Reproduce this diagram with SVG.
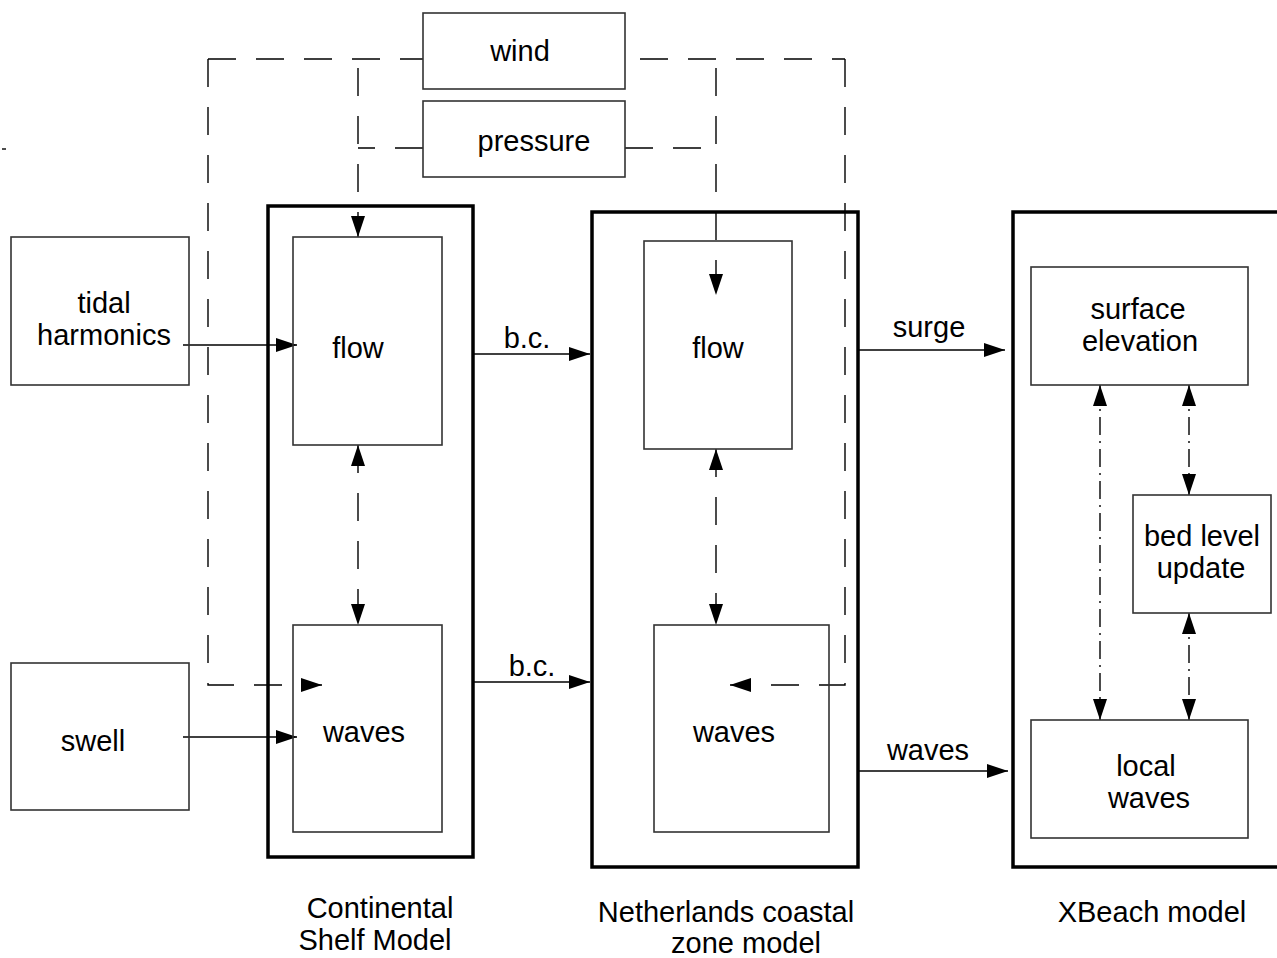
<svg xmlns="http://www.w3.org/2000/svg" width="1277" height="958" viewBox="0 0 1277 958">
<style>
text{font-family:"Liberation Sans",Arial,sans-serif;font-size:29px;fill:#000;text-anchor:middle}
.box{fill:#fff;stroke:#333;stroke-width:1.6}
.nofill{fill:none}
.outer{fill:none;stroke:#000;stroke-width:3.5}
.ln{fill:none;stroke:#000;stroke-width:1.4}
.dash{fill:none;stroke:#000;stroke-width:1.4;stroke-dasharray:28 20}
.dd{fill:none;stroke:#000;stroke-width:1.4;stroke-dasharray:18 6 2 6}
</style>
<defs>
<marker id="ah" markerUnits="userSpaceOnUse" markerWidth="22" markerHeight="14" refX="21" refY="7" orient="auto-start-reverse">
<path d="M0,0 L21,7 L0,14 Z" fill="#000"/>
</marker>
</defs>
<rect width="1277" height="958" fill="#fff"/>
<line x1="2" y1="149" x2="6" y2="149" stroke="#000" stroke-width="1.4"/>

<g id="connectors">
<path class="dash" d="M208,59 H845"/>
<path class="dash" d="M208,59 V685 H322" marker-end="url(#ah)"/>
<path class="dash" d="M845,59 V685 H730" marker-end="url(#ah)"/>
<path class="dash" d="M358,68 V237" marker-end="url(#ah)"/>
<path class="dash" d="M423,148 H358"/>
<path class="dash" d="M716,68 V295" marker-end="url(#ah)"/>
<path class="dash" d="M625,148 H716"/>
<path class="dash" d="M358,445 V625" marker-start="url(#ah)" marker-end="url(#ah)"/>
<path class="dash" d="M716,449 V625" marker-start="url(#ah)" marker-end="url(#ah)"/>
<path class="ln" d="M183,345 H297" marker-end="url(#ah)"/>
<path class="ln" d="M183,737 H297" marker-end="url(#ah)"/>
<path class="ln" d="M473,354 H590" marker-end="url(#ah)"/>
<text x="527" y="348">b.c.</text>
<path class="ln" d="M473,682 H590" marker-end="url(#ah)"/>
<text x="532" y="676">b.c.</text>
<path class="ln" d="M858,350 H1005" marker-end="url(#ah)"/>
<text x="929" y="337">surge</text>
<path class="ln" d="M858,771 H1008" marker-end="url(#ah)"/>
<text x="928" y="760">waves</text>
<path class="dd" d="M1100,385 V720" marker-start="url(#ah)" marker-end="url(#ah)"/>
<path class="dd" d="M1189,385 V495" marker-start="url(#ah)" marker-end="url(#ah)"/>
<path class="dd" d="M1189,613 V720" marker-start="url(#ah)" marker-end="url(#ah)"/>
</g>

<g id="wind"><rect class="box" x="423" y="13" width="202" height="76"/><text x="520" y="61">wind</text></g>
<g id="pressure"><rect class="box" x="423" y="101" width="202" height="76"/><text x="534" y="151">pressure</text></g>

<g id="tidal"><rect class="box nofill" x="11" y="237" width="178" height="148"/><text x="104" y="313">tidal</text><text x="104" y="345">harmonics</text></g>
<g id="swell"><rect class="box nofill" x="11" y="663" width="178" height="147"/><text x="93" y="751">swell</text></g>

<g id="continental-shelf">
<rect class="outer" x="268" y="206" width="205" height="651"/>
<text x="380" y="918">Continental</text><text x="375" y="950">Shelf Model</text>
</g>
<g id="cs-flow"><rect class="box nofill" x="293" y="237" width="149" height="208"/><text x="358" y="358">flow</text></g>
<g id="cs-waves"><rect class="box nofill" x="293" y="625" width="149" height="207"/><text x="364" y="742">waves</text></g>

<g id="netherlands">
<rect class="outer" x="592" y="212" width="266" height="655"/>
<text x="726" y="922">Netherlands coastal</text><text x="746" y="953">zone model</text>
</g>
<g id="nl-flow"><rect class="box nofill" x="644" y="241" width="148" height="208"/><text x="718" y="358">flow</text></g>
<g id="nl-waves"><rect class="box nofill" x="654" y="625" width="175" height="207"/><text x="734" y="742">waves</text></g>

<g id="xbeach">
<path class="outer" d="M1290,212 H1013 V867 H1290"/>
<text x="1152" y="922">XBeach model</text>
</g>
<g id="surface"><rect class="box" x="1031" y="267" width="217" height="118"/><text x="1138" y="319">surface</text><text x="1140" y="351">elevation</text></g>
<g id="bed"><rect class="box" x="1133" y="495" width="138" height="118"/><text x="1202" y="546">bed level</text><text x="1201" y="578">update</text></g>
<g id="local"><rect class="box" x="1031" y="720" width="217" height="118"/><text x="1146" y="776">local</text><text x="1149" y="808">waves</text></g>
</svg>
